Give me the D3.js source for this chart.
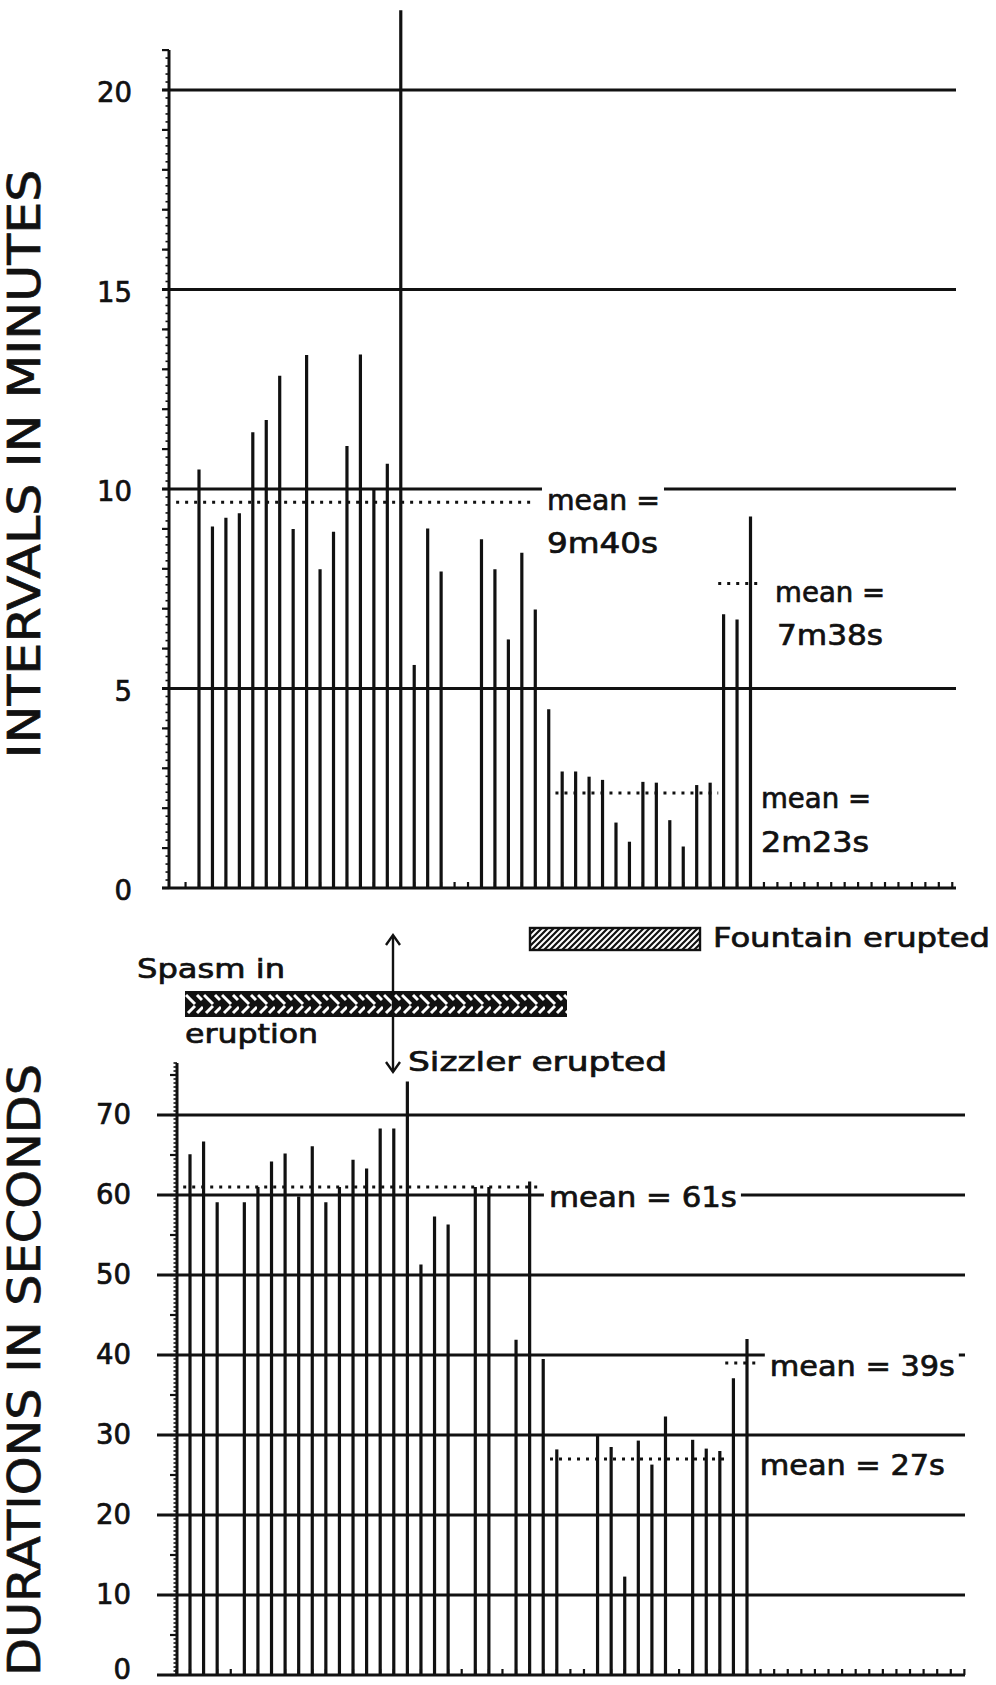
<!DOCTYPE html>
<html><head><meta charset="utf-8">
<script src="https://cdn.jsdelivr.net/npm/d3@7/dist/d3.min.js"></script>
<style>
html,body{margin:0;padding:0;background:#fff;}
svg{display:block;}
text{font-family:"DejaVu Sans",Verdana,sans-serif;fill:#111;stroke:#111;stroke-width:0.7px;}
</style>
</head><body>
<svg id="chart" width="996" height="1685"></svg>
<script>
// ---------------- DATA ----------------
// eruption slots (1..42); null = no bar in that slot
const slots = d3.range(1, 43);
// top panel: intervals in minutes
const intervalMinutes = [10.49, 9.06, 9.28, 9.39, 11.42, 11.73, 12.84, 9.00, 13.36, 7.99,
  8.93, 11.08, 13.37, 10.0, 10.63, 22.0, 5.59, 9.01, 7.93, null,
  null, 8.74, 7.99, 6.23, 8.40, 6.98, 4.48, 2.92, 2.92, 2.79,
  2.71, 1.64, 1.16, 2.66, 2.64, 1.70, 1.04, 2.58, 2.64, 6.86,
  6.73, 9.31];
// bottom panel: durations in seconds
const durationSeconds = [65.1, 66.7, 59.1, null, 59.1, 61.0, 64.2, 65.2, 59.8, 66.1,
  59.1, 61.0, 64.4, 63.3, 68.3, 68.3, 74.2, 51.3, 57.3, 56.3,
  null, 61.0, 61.0, null, 41.9, 61.7, 39.5, 28.2, null, null,
  29.9, 28.5, 12.3, 29.3, 26.3, 32.3, null, 29.4, 28.3, 28.0,
  37.1, 42.0];
const topTicks = [0, 5, 10, 15, 20];
const bottomTicks = [0, 10, 20, 30, 40, 50, 60, 70];
const topTitle = "INTERVALS IN MINUTES";
const bottomTitle = "DURATIONS IN SECONDS";
// mean segments (value, slot range)
const topMeans = [
  {value: 9 + 40/60, from: -0.7, to: 26},
  {value: 7 + 38/60, from: 39.6, to: 42.8},
  {value: 2 + 23/60, from: 27.5, to: 39.6}
];
const bottomMeans = [
  {value: 61, from: 0.5, to: 26.8},
  {value: 39, from: 40.4, to: 42.7},
  {value: 27, from: 27.5, to: 40.6}
];
const topNotes = [
  {text: "mean =", slot: 26.87, value: 9.47, width: 113, mask: true},
  {text: "9m40s", slot: 26.87, value: 8.40, width: 111},
  {text: "mean =", slot: 43.83, value: 7.17, width: 110},
  {text: "7m38s", slot: 43.97, value: 6.09, width: 106},
  {text: "mean =", slot: 42.78, value: 2.0, width: 110},
  {text: "2m23s", slot: 42.78, value: 0.90, width: 108}
];
const bottomNotes = [
  {text: "mean = 61s", slot: 27.42, value: 58.5, width: 188, mask: true},
  {text: "mean = 39s", slot: 43.68, value: 37.4, width: 185, mask: true},
  {text: "mean = 27s", slot: 42.94, value: 25.0, width: 185}
];

// ---------------- CHART ----------------
const ink = "#111";
const svg = d3.select("#chart");
const defs = svg.append("defs");

// light hatch for "Fountain erupted"
const pf = defs.append("pattern").attr("id", "fount").attr("patternUnits", "userSpaceOnUse")
  .attr("width", 6).attr("height", 6);
pf.append("rect").attr("width", 6).attr("height", 6).attr("fill", "#fff");
pf.append("path").attr("d", "M-1.5,7.5 L7.5,-1.5 M-1.5,1.5 L1.5,-1.5 M4.5,7.5 L7.5,4.5")
  .attr("stroke", ink).attr("stroke-width", 2.2);
// dark herringbone for "Spasm in eruption"
const ps = defs.append("pattern").attr("id", "spasm").attr("patternUnits", "userSpaceOnUse")
  .attr("x", 185).attr("y", 991).attr("width", 18).attr("height", 26);
ps.append("rect").attr("width", 18).attr("height", 26).attr("fill", ink);
ps.append("path").attr("d", "M1,4 L10,13 M12,4 L17,9 M3,22 L10,15 M12,22 L18,16")
  .attr("stroke", "#fff").attr("stroke-width", 3).attr("fill", "none");

function hline(g, x1, x2, y, w) {
  g.append("line").attr("x1", x1).attr("x2", x2).attr("y1", y).attr("y2", y)
    .attr("stroke", ink).attr("stroke-width", w);
}
function vline(g, x, y1, y2, w) {
  g.append("line").attr("x1", x).attr("x2", x).attr("y1", y1).attr("y2", y2)
    .attr("stroke", ink).attr("stroke-width", w);
}

function panel(cfg) {
  const g = svg.append("g");
  const {x, y, values, ticks, axisX, gridLeft, right, maxSlot, axisTop, minorStep, tinyStep, labelPad, labelDy, means, notes} = cfg;
  const y0 = y(0);
  // gridlines
  ticks.filter(t => t > 0).forEach(t => hline(g, gridLeft, right, y(t), 3));
  // baseline
  hline(g, gridLeft, right, y0, 3.2);
  // slot ticks along the baseline
  d3.range(0, maxSlot + 1).forEach(i => vline(g, x(i), y0, y0 - 6, 2.2));
  // y axis + minor ticks
  vline(g, axisX, y0, y(axisTop), 3);
  d3.range(0, axisTop + 0.001, tinyStep).forEach(v => hline(g, axisX - 3.5, axisX, y(v), 1.6));
  d3.range(0, axisTop + 0.001, minorStep).forEach(v => hline(g, axisX - 7, axisX, y(v), 2.2));
  // tick labels via d3 axis
  const ax = g.append("g").attr("transform", `translate(${axisX},0)`)
    .call(d3.axisLeft(y).tickValues(ticks).tickSize(0).tickPadding(labelPad).tickFormat(d3.format("d")));
  ax.select(".domain").remove();
  ax.selectAll("text").attr("font-size", 27.5).attr("font-family", "DejaVu Sans")
    .attr("fill", ink).attr("stroke", ink).attr("stroke-width", 0.7)
    .attr("dy", d => (y(d) > 1660 ? "0.12em" : labelDy));
  // mean dotted lines
  means.forEach(m => {
    g.append("line").attr("x1", x(m.from)).attr("x2", x(m.to))
      .attr("y1", y(m.value)).attr("y2", y(m.value))
      .attr("stroke", ink).attr("stroke-width", 3).attr("stroke-dasharray", "3,6");
  });
  // bars
  g.selectAll("line.bar").data(slots.map((s, i) => ({s, v: values[i]})).filter(d => d.v != null))
    .join("line").attr("class", "bar")
    .attr("x1", d => x(d.s)).attr("x2", d => x(d.s))
    .attr("y1", y0).attr("y2", d => y(d.v))
    .attr("stroke", ink).attr("stroke-width", 3.2);
  // notes
  notes.forEach(n => {
    const t = g.append("text").attr("x", x(n.slot)).attr("y", y(n.value))
      .attr("font-size", 28).attr("textLength", n.width).attr("lengthAdjust", "spacingAndGlyphs")
      .text(n.text);
    if (n.mask) {
      const b = t.node().getBBox();
      g.insert("rect", () => t.node()).attr("x", b.x - 5).attr("y", b.y)
        .attr("width", b.width + 9).attr("height", b.height).attr("fill", "#fff");
    }
  });
  return g;
}

const xTop = d3.scaleLinear().domain([1, 42]).range([199, 750.5]);
const yTop = d3.scaleLinear().domain([0, 20]).range([888, 90]);
panel({x: xTop, y: yTop, values: intervalMinutes, ticks: topTicks, axisX: 169, gridLeft: 162,
  right: 956, maxSlot: 57, axisTop: 21, minorStep: 1, tinyStep: 0.2, labelPad: 37, labelDy: "0.42em",
  means: topMeans, notes: topNotes});

const xBot = d3.scaleLinear().domain([1, 42]).range([190, 747]);
const yBot = d3.scaleLinear().domain([0, 70]).range([1675, 1115]);
panel({x: xBot, y: yBot, values: durationSeconds, ticks: bottomTicks, axisX: 177, gridLeft: 157,
  right: 965, maxSlot: 58, axisTop: 76.5, minorStep: 5, tinyStep: 0.5, labelPad: 46, labelDy: "0.3em",
  means: bottomMeans, notes: bottomNotes});

// axis titles
[[topTitle, 464, 589], [bottomTitle, 1370, 612]].forEach(([t, cy, len]) => {
  svg.append("text").attr("transform", `translate(40,${cy}) rotate(-90)`)
    .attr("text-anchor", "middle").attr("font-size", 44).attr("stroke-width", 0.9)
    .attr("textLength", len).attr("lengthAdjust", "spacingAndGlyphs").text(t);
});

// middle annotations
const ann = svg.append("g");
ann.append("rect").attr("x", 530).attr("y", 928).attr("width", 170).attr("height", 22)
  .attr("fill", "url(#fount)").attr("stroke", ink).attr("stroke-width", 2.4);
ann.append("text").attr("x", 713).attr("y", 947).attr("font-size", 26.5)
  .attr("textLength", 277).attr("lengthAdjust", "spacingAndGlyphs").text("Fountain erupted");
ann.append("rect").attr("x", 185).attr("y", 991).attr("width", 382).attr("height", 26)
  .attr("fill", "url(#spasm)");
ann.append("text").attr("x", 137).attr("y", 978).attr("font-size", 26.5)
  .attr("textLength", 148).attr("lengthAdjust", "spacingAndGlyphs").text("Spasm in");
ann.append("text").attr("x", 185).attr("y", 1043).attr("font-size", 26.5)
  .attr("textLength", 133).attr("lengthAdjust", "spacingAndGlyphs").text("eruption");
vline(ann, 393, 936, 1072, 2.4);
ann.append("path").attr("d", "M386,945 L393,935 L400,945 M386,1062 L393,1072 L400,1062")
  .attr("fill", "none").attr("stroke", ink).attr("stroke-width", 2.4);
ann.append("text").attr("x", 408).attr("y", 1071).attr("font-size", 26.5)
  .attr("textLength", 259).attr("lengthAdjust", "spacingAndGlyphs").text("Sizzler erupted");
</script>
</body></html>
